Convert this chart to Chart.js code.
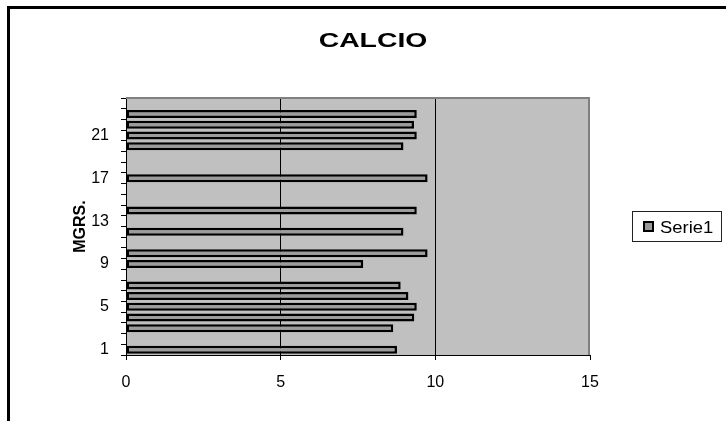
<!DOCTYPE html>
<html>
<head>
<meta charset="utf-8">
<script src="https://cdn.jsdelivr.net/npm/chart.js@4/dist/chart.umd.min.js"></script>
<style>
  html, body { margin: 0; padding: 0; background: #fff; }
  #wrap { width: 726px; height: 421px; }
</style>
</head>
<body>
<div id="wrap"><canvas id="calcioChart" width="726" height="421"></canvas></div>
<script>
// Data
const categories = ['1', '2', '3', '4', '5', '6', '7', '8', '9', '10', '11', '12',
    '13', '14', '15', '16', '17', '18', '19', '20', '21', '22', '23', '24'];
const serie1 = [8.76, null, 8.64, 9.32, 9.4, 9.13, 8.88, null, 7.67, 9.75, null, 8.97,
    null, 9.4, null, null, 9.75, null, null, 8.97, 9.4, 9.31, 9.4, null];
const yTickLabels = ['1', '5', '9', '13', '17', '21'];
const xMin = 0, xMax = 15, xStep = 5;
const chartTitle = 'CALCIO';
const yTitle = 'MGRS.';
const seriesName = 'Serie1';

const FONT = 'Arial, "Liberation Sans", sans-serif';

// Plot background, gray frame edges, outer frame, title and legend box
const excelLook = {
    id: 'excelLook',
    beforeDraw(chart) {
        const { ctx, chartArea: a } = chart;
        ctx.save();
        ctx.fillStyle = '#c0c0c0';
        ctx.fillRect(a.left, a.top, a.right - a.left, a.bottom - a.top);
        ctx.restore();
    },
    afterDraw(chart) {
        const { ctx, chartArea: a } = chart;
        ctx.save();
        // gray top and right edges of the plot
        ctx.strokeStyle = '#808080';
        ctx.lineWidth = 2;
        ctx.beginPath();
        ctx.moveTo(a.left, a.top);
        ctx.lineTo(a.right - 1, a.top);
        ctx.lineTo(a.right - 1, a.bottom);
        ctx.stroke();

        // outer chart frame (only top and left visible)
        ctx.fillStyle = '#000';
        ctx.fillRect(7, 6, chart.width - 7, 3);
        ctx.fillRect(7, 6, 3, chart.height - 6);

        // title
        ctx.font = 'bold 21px ' + FONT;
        ctx.textAlign = 'center';
        ctx.textBaseline = 'alphabetic';
        ctx.save();
        ctx.translate(373, 47);
        ctx.scale(1.35, 1);
        ctx.fillText(chartTitle, 0, 0);
        ctx.restore();

        // legend
        ctx.fillStyle = '#fff';
        ctx.fillRect(633, 211, 89, 31);
        ctx.strokeStyle = '#222';
        ctx.lineWidth = 1;
        ctx.strokeRect(632.5, 211.5, 89, 30);
        ctx.fillStyle = '#999';
        ctx.fillRect(643, 221, 11, 11);
        ctx.strokeStyle = '#000';
        ctx.lineWidth = 2;
        ctx.strokeRect(644, 222, 9, 9);
        ctx.fillStyle = '#000';
        ctx.font = '16px ' + FONT;
        ctx.textAlign = 'left';
        ctx.save();
        ctx.translate(660, 233);
        ctx.scale(1.15, 1);
        ctx.fillText(chart.data.datasets[0].label, 0, 0);
        ctx.restore();
        ctx.restore();
    }
};

const chart = new Chart(document.getElementById('calcioChart'), {
    type: 'bar',
    data: {
        labels: categories,
        datasets: [{
            label: seriesName,
            data: serie1,
            backgroundColor: '#9c9c9c',
            borderColor: '#000',
            borderWidth: 2.5,
            borderSkipped: false,
            barPercentage: 0.75,
            categoryPercentage: 1
        }]
    },
    options: {
        indexAxis: 'y',
        responsive: false,
        animation: false,
        layout: { padding: { top: 98, right: 136, left: 0, bottom: 0 } },
        plugins: {
            legend: { display: false },
            title: { display: false },
            tooltip: { enabled: false }
        },
        scales: {
            x: {
                min: xMin,
                max: xMax,
                ticks: {
                    stepSize: xStep,
                    color: '#000',
                    padding: 13,
                    font: { family: FONT, size: 16 }
                },
                grid: {
                    color: c => (c.tick && (c.tick.value === 5 || c.tick.value === 10)) ? '#000' : 'rgba(0,0,0,0)',
                    tickColor: '#000',
                    tickLength: 5,
                    lineWidth: 1
                },
                border: { color: '#000', width: 1 },
                afterFit: s => { s.height = 66; }
            },
            y: {
                reverse: true,
                offset: true,
                ticks: {
                    autoSkip: false,
                    color: '#000',
                    padding: 12,
                    font: { family: FONT, size: 16 },
                    callback: v => yTickLabels.includes(categories[v]) ? categories[v] : ''
                },
                grid: {
                    drawOnChartArea: false,
                    tickColor: '#000',
                    tickLength: 5,
                    offset: true
                },
                border: { color: '#000', width: 1 },
                title: {
                    display: true,
                    text: yTitle,
                    color: '#000',
                    font: { family: FONT, size: 16, weight: 'bold' },
                    padding: { top: 71, bottom: 0 }
                },
                afterFit: s => { s.width = 126; }
            }
        }
    },
    plugins: [excelLook]
});
</script>
</body>
</html>
